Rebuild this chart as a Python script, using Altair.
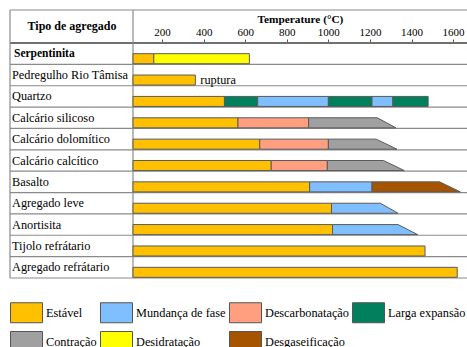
import altair as alt
import pandas as pd

rows = ["Serpentinita", "Pedregulho Rio Tâmisa", "Quartzo", "Calcário silicoso",
        "Calcário dolomítico", "Calcário calcítico", "Basalto", "Agregado leve",
        "Anortisita", "Tijolo refrátario", "Agregado refrátario"]

phases = ["Estável", "Mundança de fase", "Descarbonatação", "Larga expansão",
          "Contração", "Desidratação", "Desgaseificação"]
phase_colors = ["#FFC000", "#80BFFF", "#FF9F80", "#00805C",
                "#A0A0A0", "#FFFF00", "#A65400"]

seg_row = ["Serpentinita", "Serpentinita",
           "Pedregulho Rio Tâmisa",
           "Quartzo", "Quartzo", "Quartzo", "Quartzo", "Quartzo", "Quartzo",
           "Calcário silicoso", "Calcário silicoso",
           "Calcário dolomítico", "Calcário dolomítico",
           "Calcário calcítico", "Calcário calcítico",
           "Basalto", "Basalto",
           "Agregado leve", "Anortisita", "Tijolo refrátario", "Agregado refrátario"]
seg_start = [60, 160, 60, 60, 500, 660, 1000, 1210, 1310, 60, 565, 60, 670, 60, 725,
             60, 910, 60, 60, 60, 60]
seg_end = [160, 620, 360, 500, 660, 1000, 1210, 1310, 1480, 565, 905, 670, 1000, 725, 995,
           910, 1210, 1015, 1020, 1465, 1620]
seg_phase = ["Estável", "Desidratação",
             "Estável",
             "Estável", "Larga expansão", "Mundança de fase", "Larga expansão",
             "Mundança de fase", "Larga expansão",
             "Estável", "Descarbonatação",
             "Estável", "Descarbonatação",
             "Estável", "Descarbonatação",
             "Estável", "Mundança de fase",
             "Estável", "Estável", "Estável", "Estável"]

taper_row = ["Calcário silicoso", "Calcário dolomítico", "Calcário calcítico",
             "Basalto", "Agregado leve", "Anortisita"]
taper_start = [905, 1000, 995, 1210, 1015, 1020]
taper_top_end = [1235, 1230, 1265, 1535, 1250, 1335]
taper_bottom_end = [1325, 1330, 1365, 1635, 1335, 1430]
taper_phase = ["Contração", "Contração", "Contração",
               "Desgaseificação", "Mundança de fase", "Mundança de fase"]

x_ticks = [200, 400, 600, 800, 1000, 1200, 1400, 1600]
note_row = "Pedregulho Rio Tâmisa"
note_text = "ruptura"

# ---- layout constants (style) ----
W, H = 334, 235
BAR_TOP, BAR_BOT = 0.50, 0.97
LINE = "#8a8a8a"
FONT = "Liberation Serif"
FS = 12.3

idx = {r: i for i, r in enumerate(rows)}

seg_df = pd.DataFrame({"row": seg_row, "start": seg_start, "end": seg_end, "phase": seg_phase})
seg_df["top"] = seg_df["row"].map(idx) + BAR_TOP
seg_df["bot"] = seg_df["row"].map(idx) + BAR_BOT

tap_records = []
for r, s, te, be, p in zip(taper_row, taper_start, taper_top_end, taper_bottom_end, taper_phase):
    tap_records.append({"row": r, "y": idx[r] + BAR_TOP, "start": s, "end": te, "phase": p})
    tap_records.append({"row": r, "y": idx[r] + BAR_BOT, "start": s, "end": be, "phase": p})
tap_df = pd.DataFrame(tap_records)

lab_df = pd.DataFrame({"row": rows, "mid": [i + 0.5 for i in range(len(rows))]})
bound_df = pd.DataFrame({"b": list(range(1, len(rows) + 1))})
head_df = pd.DataFrame({"b": [0]})
note_df = pd.DataFrame({"x": [seg_end[seg_row.index(note_row)]],
                        "y": [idx[note_row] + (BAR_TOP + BAR_BOT) / 2],
                        "t": [note_text]})
one = pd.DataFrame({"a": [0]})

xscale = alt.Scale(domain=[60, 1667], nice=False, zero=False)
yscale = alt.Scale(domain=[0, len(rows)], reverse=True, nice=False, zero=False)

color = alt.Color("phase:N",
                  scale=alt.Scale(domain=phases, range=phase_colors),
                  legend=alt.Legend(orient="none", legendX=-123, legendY=253,
                                    direction="horizontal", columns=4, title=None,
                                    symbolType="M-1,-0.625L1,-0.625L1,0.625L-1,0.625Z",
                                    symbolSize=1024, symbolStrokeColor="#555555",
                                    symbolStrokeWidth=1, symbolOpacity=1,
                                    labelFont=FONT, labelFontSize=FS, labelColor="black",
                                    labelOffset=3, columnPadding=1, rowPadding=-4,
                                    padding=0, labelLimit=200))

rules = alt.Chart(bound_df).mark_rule(color=LINE, strokeWidth=1.2).encode(
    x=alt.value(-123), x2=alt.value(W), y=alt.Y("b:Q", scale=yscale, axis=None))
head_rule = alt.Chart(head_df).mark_rule(color="#707070", strokeWidth=2).encode(
    x=alt.value(-123), x2=alt.value(W), y=alt.Y("b:Q", scale=yscale, axis=None))
top_rule = alt.Chart(one).mark_rule(color=LINE, strokeWidth=1.2).encode(
    x=alt.value(-123), x2=alt.value(W), y=alt.value(-33))
left_rule = alt.Chart(one).mark_rule(color=LINE, strokeWidth=1.2).encode(
    x=alt.value(-123), y=alt.value(-33), y2=alt.value(H))
div_rule = alt.Chart(one).mark_rule(color=LINE, strokeWidth=1.2).encode(
    x=alt.value(0), y=alt.value(-33), y2=alt.value(H))

bars = alt.Chart(seg_df).mark_rect(stroke="#5a5a5a", strokeWidth=1).encode(
    x=alt.X("start:Q", scale=xscale,
            axis=alt.Axis(orient="top", values=x_ticks, title="Temperature (°C)",
                          format="d",
                          domain=False, grid=False, tickSize=4, tickColor="#555555",
                          labelFont=FONT, labelFontSize=11, labelColor="black",
                          labelPadding=2, titleFont=FONT, titleFontSize=11.3,
                          titleFontWeight="bold", titleColor="black", titlePadding=2)),
    x2="end:Q",
    y=alt.Y("top:Q", scale=yscale, axis=None),
    y2="bot:Q",
    fill=color)

tapers = alt.Chart(tap_df).mark_area(orient="horizontal", stroke="#5a5a5a",
                                     strokeWidth=1, opacity=1).encode(
    y=alt.Y("y:Q", scale=yscale, axis=None),
    x=alt.X("start:Q", scale=xscale),
    x2="end:Q",
    detail="row:N",
    fill=color)

labels = alt.Chart(lab_df).transform_filter(alt.datum.row != rows[0]).mark_text(
    align="left", baseline="middle", font=FONT, fontSize=FS, color="black").encode(
    x=alt.value(-121), y=alt.Y("mid:Q", scale=yscale, axis=None), text="row:N")
label_bold = alt.Chart(lab_df).transform_filter(alt.datum.row == rows[0]).mark_text(
    align="left", baseline="middle", font=FONT, fontSize=11.5, fontWeight="bold",
    color="black").encode(
    x=alt.value(-119), y=alt.Y("mid:Q", scale=yscale, axis=None), text="row:N")
header = alt.Chart(pd.DataFrame({"t": ["Tipo de agregado"]})).mark_text(
    align="center", baseline="middle", font=FONT, fontSize=12, fontWeight="bold",
    color="black").encode(x=alt.value(-61), y=alt.value(-17), text="t:N")
note = alt.Chart(note_df).mark_text(
    align="left", baseline="middle", font=FONT, fontSize=FS, color="black", dx=5).encode(
    x=alt.X("x:Q", scale=xscale), y=alt.Y("y:Q", scale=yscale, axis=None), text="t:N")

chart = alt.layer(rules, head_rule, top_rule, left_rule, div_rule, bars, tapers,
                  labels, label_bold, header, note).properties(
    width=W, height=H,
    autosize=alt.AutoSizeParams(type="none"),
    padding={"left": 133, "top": 43, "right": 0, "bottom": 69},
    background="white",
).configure_view(stroke=None)

chart.save("out.html", embed_options={"renderer": "svg", "actions": False})
